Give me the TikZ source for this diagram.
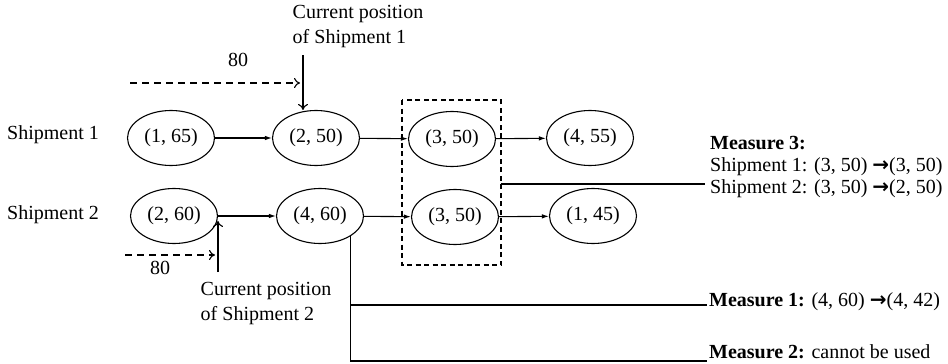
\documentclass[tikz,border=0pt]{standalone}
\usepackage{fontspec}
\setmainfont{Liberation Serif}
\newfontfamily\arrowfont{DejaVu Sans}
\newcommand{\rarr}{{\arrowfont\bfseries →}}
\usetikzlibrary{arrows.meta,calc,shapes.geometric}
\begin{document}
\begin{tikzpicture}[x=1pt,y=-1pt,
  every node/.style={font=\fontsize{20}{25}\selectfont},
  state/.style={draw,ellipse,minimum width=87pt,minimum height=55pt,inner sep=0pt,line width=1.1pt},
  flow/.style={line width=1.1pt,-{Latex[length=7pt,width=4.5pt]}},
  pointer/.style={line width=1.1pt,-{To[length=6pt,width=10pt]}},
  dashedarrow/.style={line width=1.1pt,dash pattern=on 7pt off 5pt,-{To[length=6pt,width=10pt]}},
  link/.style={line width=1.1pt},
  lbl/.style={inner sep=0pt,align=left}]
\useasboundingbox (0,0) rectangle (948,364);
% states
\node[state] (n11) at (171,138) {(1, 65)};
\node[state] (n12) at (316,138) {(2, 50)};
\node[state] (n13) at (452,139) {(3, 50)};
\node[state] (n14) at (590,138) {(4, 55)};
\node[state] (n21) at (174,216) {(2, 60)};
\node[state] (n22) at (320,216) {(4, 60)};
\node[state] (n23) at (455,217) {(3, 50)};
\node[state] (n24) at (593,216) {(1, 45)};
% row labels
\node[lbl,anchor=west] (s1) at (7,135) {Shipment 1};
\node[lbl,anchor=west] (s2) at (7,215) {Shipment 2};
% flows
\draw[flow] (n11) -- (n12);
\draw[flow] (n12) -- (n13);
\draw[flow] (n13) -- (n14);
\draw[flow] (n21) -- (n22);
\draw[flow] (n22) -- (n23);
\draw[flow] (n23) -- (n24);
% dashed box
\draw[link,dash pattern=on 5pt off 3.5pt] (402,100) rectangle (501,265);
\coordinate (boxe) at (501,184);
% current positions
\node[lbl] (cp1t) at (358,27) {Current position\\of Shipment 1};
\coordinate (cp1) at (303,55);
\draw[pointer] (cp1) -- (cp1 |- n12.north);
\node[lbl] (cp2t) at (266,304) {Current position\\of Shipment 2};
\coordinate (cp2) at (218,272);
\coordinate (cp2e) at (218,221);
\draw[pointer] (cp2) -- (cp2e);
% dashed 80 arrows
\coordinate (d1a) at (130,83);
\coordinate (d1b) at (300,83);
\draw[dashedarrow] (d1a) -- (d1b);
\node[lbl] (l80a) at (238,60) {80};
\coordinate (d2a) at (125,255);
\coordinate (d2b) at (215,255);
\draw[dashedarrow] (d2a) -- (d2b);
\node[lbl] (l80b) at (160,268) {80};
% measures
\node[lbl,anchor=west,font=\fontsize{20}{22}\selectfont] (m3) at (710,167)
  {\textbf{Measure 3:}\\Shipment 1: (3, 50) \rarr(3, 50)\\Shipment 2: (3, 50) \rarr(2, 50)};
\coordinate (m3e) at (705,184);
\draw[link] (boxe) -- (m3e);
\node[lbl,anchor=west] (m1) at (709,302) {\textbf{Measure 1:} (4, 60) \rarr(4, 42)};
\node[lbl,anchor=west] (m2) at (709,352) {\textbf{Measure 2:} cannot be used};
\coordinate (m1e) at (707,305);
\coordinate (m2e) at (707,361);
\draw[link] (n22.-34) |- (m1e);
\draw[link] (n22.-34) |- (m2e);
\end{tikzpicture}
\end{document}
